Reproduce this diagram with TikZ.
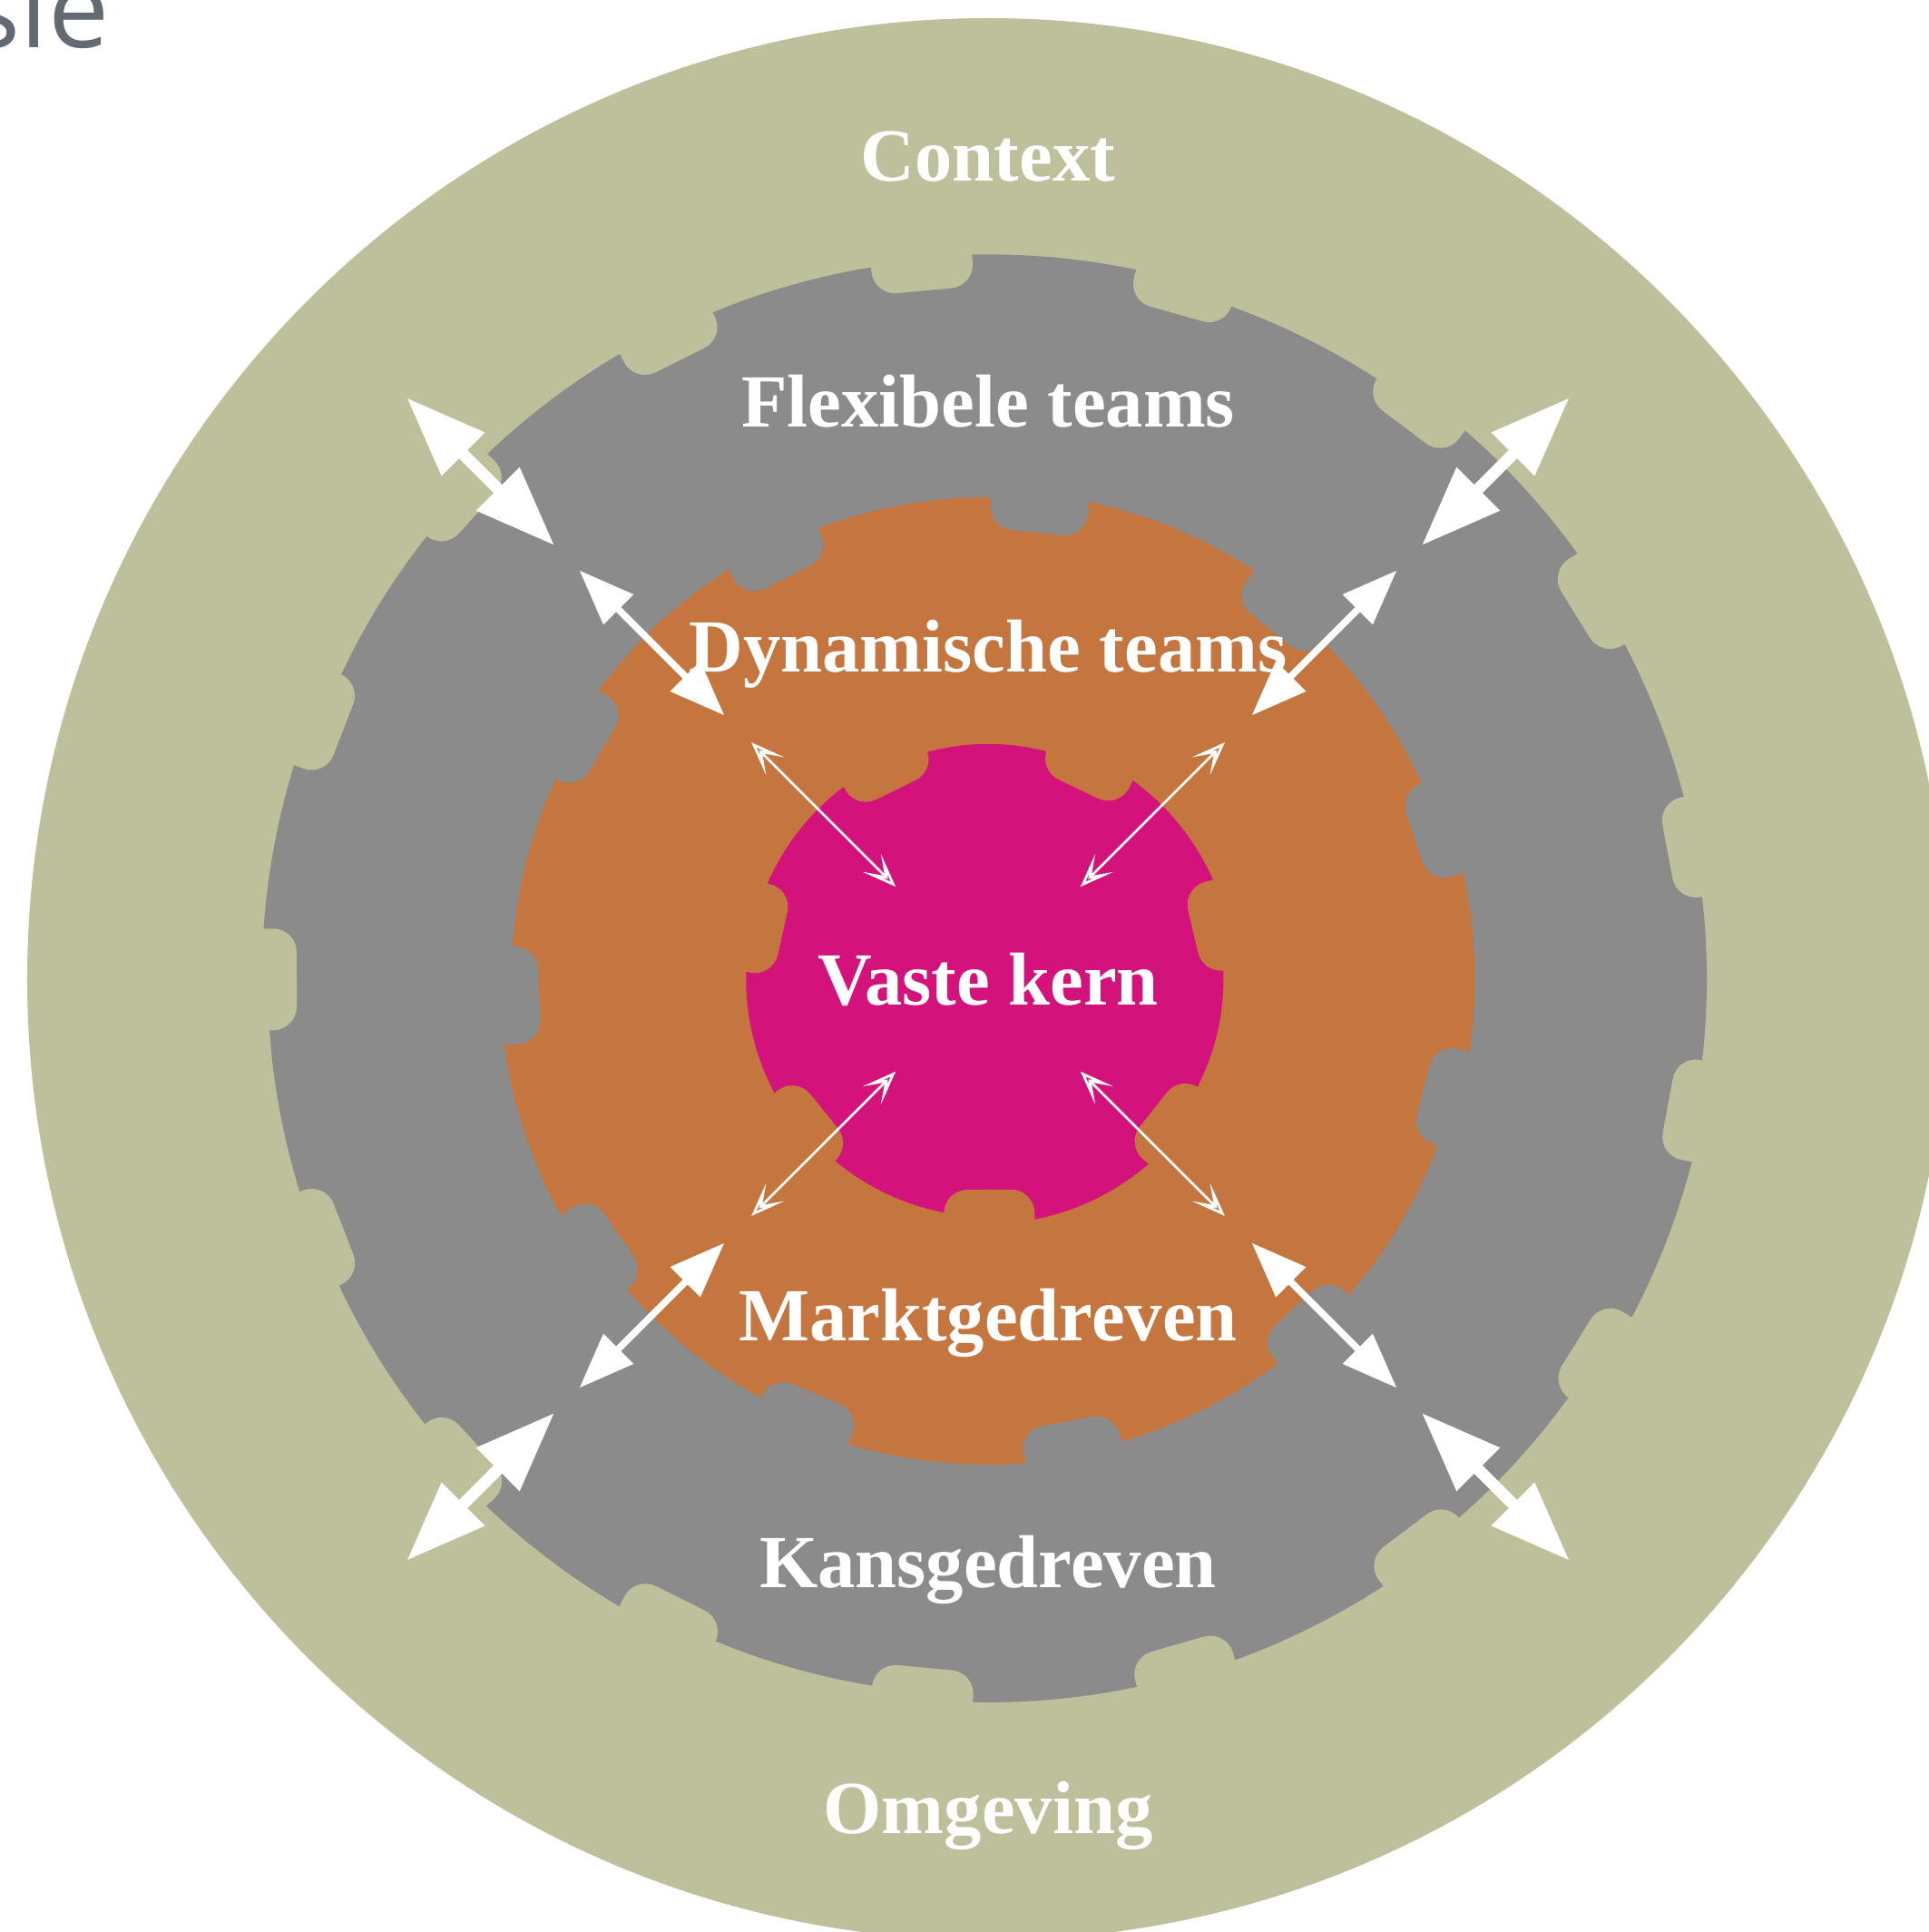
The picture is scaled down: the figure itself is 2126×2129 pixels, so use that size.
\documentclass[tikz,border=0pt]{standalone}
\usepackage{fontspec}
\setmainfont{Liberation Serif}
\newfontfamily\opensans{Open Sans}
\usetikzlibrary{arrows.meta}
\definecolor{ringolive}{RGB}{190,191,155}
\definecolor{ringgray}{RGB}{139,139,139}
\definecolor{ringorange}{RGB}{197,117,62}
\definecolor{ringmagenta}{RGB}{212,18,123}
\definecolor{titlegray}{RGB}{100,106,115}
\begin{document}
\begin{tikzpicture}[x=0.01cm,y=0.01cm,
  lbl/.style={font=\bfseries\fontsize{23.5}{28}\selectfont, text=white, anchor=base, inner sep=0pt},
  notch/.style={rounded corners=0.26cm},
  bigarr/.style={draw=white, line width=0.13cm, {Triangle[length=0.88cm,width=0.64cm]}-{Triangle[length=0.88cm,width=0.64cm]}},
  midarr/.style={draw=white, line width=0.075cm, {Triangle[length=0.61cm,width=0.45cm]}-{Triangle[length=0.61cm,width=0.45cm]}},
  smallarr/.style={draw=white, line width=0.028cm, {Stealth[open,length=0.37cm,width=0.28cm,inset=0.2cm]}-{Stealth[open,length=0.37cm,width=0.28cm,inset=0.2cm]}}
]
\useasboundingbox (-1089,-1050) rectangle (1037,1079);
\clip (-1089,-1050) rectangle (1037,1079);
\fill[white] (-1089,-1050) rectangle (1037,1079);

% outer olive disc
\fill[ringolive] (0,0) circle (1059);

% gray ring: toothed disc
\fill[ringgray] (0,0) circle (786);
\foreach \i in {0,...,16}{
  \pgfmathsetmacro\sa{95.3+21.18*\i}
  \pgfmathsetmacro\ea{\sa+21.18}
  \pgfmathsetmacro\rr{795+7*sin(137*\i)}
  \fill[ringgray] (0,0) -- (\sa:\rr) arc[start angle=\sa, end angle=\ea, radius=\rr] -- cycle;
}
\foreach \i in {0,...,16}
  \fill[ringolive, notch, rotate={95.3+21.18*\i}] (762,-56) rectangle (840,56);

% orange ring: toothed disc
\fill[ringorange] (0,0) circle (522);
\foreach \i in {0,...,10}{
  \pgfmathsetmacro\sa{83.8+32.73*\i}
  \pgfmathsetmacro\ea{\sa+32.73}
  \pgfmathsetmacro\rr{531+7*sin(151*\i)}
  \fill[ringorange] (0,0) -- (\sa:\rr) arc[start angle=\sa, end angle=\ea, radius=\rr] -- cycle;
}
\foreach \i in {0,...,10}
  \fill[ringgray, notch, rotate={83.8+32.73*\i}] (495,-54) rectangle (575,54);

% magenta core: toothed disc
\fill[ringmagenta] (0,0) circle (257);
\foreach \i in {0,...,6}{
  \pgfmathsetmacro\sa{116+51.43*\i}
  \pgfmathsetmacro\ea{\sa+51.43}
  \pgfmathsetmacro\rr{265+6*sin(163*\i)}
  \fill[ringmagenta] (0,0) -- (\sa:\rr) arc[start angle=\sa, end angle=\ea, radius=\rr] -- cycle;
}
\foreach \i in {0,...,6}
  \fill[ringorange, notch, rotate={116+51.43*\i}] (232,-50) rectangle (310,50);

% labels
\node[lbl] (context) at (0,879) {Context};
\node[lbl] (flex) at (0,609) {Flexibele teams};
\node[lbl] (dyn) at (0,339) {Dynamische teams};
\node[lbl] (vast) at (0,-28) {Vaste kern};
\node[lbl] (markt) at (0,-398) {Marktgedreven};
\node[lbl] (kans) at (0,-670) {Kansgedreven};
\node[lbl] (omg) at (0,-941) {Omgeving};

% arrows
\foreach \a/\n in {45/ne,135/nw,225/sw,315/se}{
  \coordinate (\n s1) at (\a:144);
  \coordinate (\n s2) at (\a:369);
  \coordinate (\n m1) at (\a:411);
  \coordinate (\n m2) at (\a:637);
  \coordinate (\n l1) at (\a:676);
  \coordinate (\n l2) at (\a:906);
  \draw[smallarr] (\n s1) -- (\n s2);
  \draw[midarr] (\n m1) -- (\n m2);
  \draw[bigarr] (\n l1) -- (\n l2);
}

% cut-off title fragment
\node[font=\opensans\fontsize{34}{40}\selectfont, text=titlegray, anchor=base east, inner sep=0pt] (title) at (-968,1026) {sie};
\end{tikzpicture}
\end{document}
